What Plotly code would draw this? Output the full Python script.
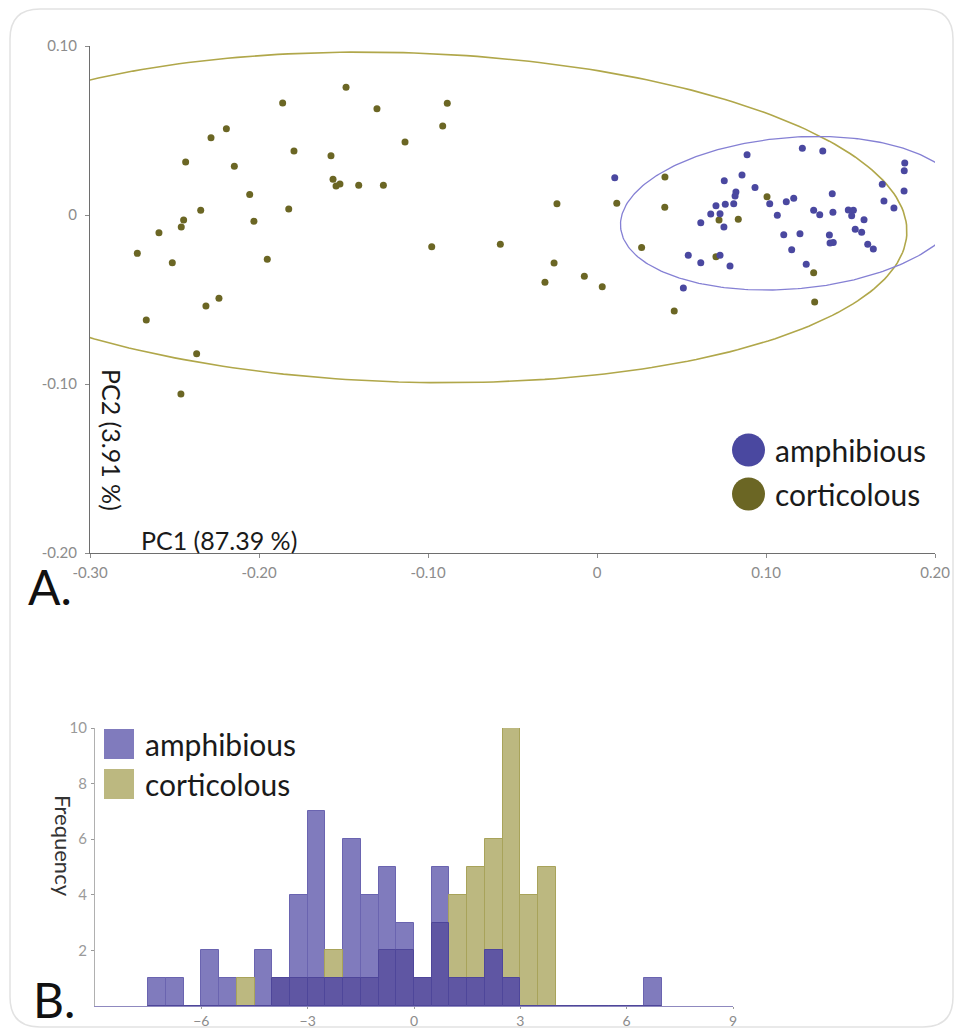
import numpy as np
import plotly.graph_objects as go

# ---------------- data ----------------
# Panel A: PCA scores
amph_pc1 = [0.0105, 0.0888, 0.1215, 0.1336, 0.1821, 0.1818, 0.0753, 0.0858, 0.1688, 0.1817,
            0.0935, 0.0822, 0.0817, 0.0704, 0.0759, 0.0809, 0.1022, 0.1120, 0.1164, 0.1392,
            0.1698, 0.1757, 0.1282, 0.1318, 0.1396, 0.1487, 0.1517, 0.1507, 0.1580, 0.0673,
            0.0728, 0.0614, 0.0751, 0.1067, 0.1528, 0.1566, 0.1105, 0.1201, 0.1375, 0.1379,
            0.1398, 0.1602, 0.1635, 0.1152, 0.0540, 0.0614, 0.0728, 0.0787, 0.1238, 0.0511]
amph_pc2 = [0.0221, 0.0357, 0.0395, 0.0379, 0.0308, 0.0262, 0.0203, 0.0237, 0.0182, 0.0142,
            0.0162, 0.0136, 0.0112, 0.0055, 0.0063, 0.0067, 0.0067, 0.0079, 0.0099, 0.0126,
            0.0083, 0.0041, 0.0028, 0.0002, 0.0016, 0.0030, 0.0028, -0.0004, -0.0028, 0.0006,
            0.0008, -0.0046, -0.0071, -0.0002, -0.0085, -0.0102, -0.0117, -0.0111, -0.0118, -0.0166,
            -0.0162, -0.0173, -0.0201, -0.0205, -0.0238, -0.0282, -0.0238, -0.0302, -0.0292, -0.0432]
cort_pc1 = [-0.1485, -0.1860, -0.1302, -0.2193, -0.2284, -0.1793, -0.2434, -0.1574, -0.2146, -0.1562,
            -0.1544, -0.1521, -0.1410, -0.1264, -0.2055, -0.2345, -0.1824, -0.2446, -0.2460, -0.2030,
            -0.2592, -0.2720, -0.2513, -0.1951, -0.2237, -0.2314, -0.2667, -0.2369, -0.2462, -0.0886,
            -0.0913, -0.1136, -0.0237, 0.0117, -0.0978, -0.0572, -0.0254, -0.0308, -0.0075, 0.0031,
            0.0402, 0.0401, 0.1006, 0.0722, 0.0836, 0.0264, 0.0704, 0.1282, 0.1288, 0.0457]
cort_pc2 = [0.0756, 0.0663, 0.0629, 0.0511, 0.0457, 0.0379, 0.0314, 0.0351, 0.0288, 0.0211,
            0.0172, 0.0183, 0.0176, 0.0176, 0.0122, 0.0028, 0.0036, -0.0030, -0.0071, -0.0037,
            -0.0105, -0.0227, -0.0282, -0.0262, -0.0493, -0.0538, -0.0621, -0.0821, -0.1059, 0.0661,
            0.0527, 0.0432, 0.0067, 0.0069, -0.0188, -0.0173, -0.0284, -0.0398, -0.0363, -0.0424,
            0.0225, 0.0046, 0.0108, -0.0030, -0.0025, -0.0193, -0.0247, -0.0341, -0.0515, -0.0568]

pc1_ticks = [-0.3, -0.2, -0.1, 0.0, 0.1, 0.2]
pc1_ticktext = ["-0.30", "-0.20", "-0.10", "0", "0.10", "0.20"]
pc2_ticks = [-0.2, -0.1, 0.0, 0.1]
pc2_ticktext = ["-0.20", "-0.10", "0", "0.10"]

# Panel B: histogram (bin width 0.5)
bin_centers = [-7.25, -6.75, -6.25, -5.75, -5.25, -4.75, -4.25, -3.75, -3.25, -2.75,
               -2.25, -1.75, -1.25, -0.75, -0.25, 0.25, 0.75, 1.25, 1.75, 2.25,
               2.75, 3.25, 3.75, 4.25, 4.75, 5.25, 5.75, 6.25, 6.75]
amph_counts = [1, 1, 0, 2, 1, 0, 2, 1, 4, 7,
               1, 6, 4, 5, 3, 1, 5, 1, 1, 2,
               1, 0, 0, 0, 0, 0, 0, 0, 1]
cort_counts = [0, 0, 0, 0, 0, 1, 0, 1, 1, 1,
               2, 1, 1, 2, 2, 1, 3, 4, 5, 6,
               10, 4, 5, 0, 0, 0, 0, 0, 0]
hist_xticks = [-6, -3, 0, 3, 6, 9]
hist_yticks = [2, 4, 6, 8, 10]

# ---------------- helpers ----------------
W, H = 955, 1029
FONT = "Lato"


def px(x):
    """window pixel -> paper x"""
    return x / W


def py(y):
    """window pixel -> paper y"""
    return 1 - y / H


def conf_ellipse(x, y, chi2=5.991, n=300):
    x = np.asarray(x)
    y = np.asarray(y)
    m = np.array([x.mean(), y.mean()])
    cov = np.cov(x, y)
    vals, vecs = np.linalg.eigh(cov)
    t = np.linspace(0, 2 * np.pi, n)
    circ = np.vstack([np.cos(t), np.sin(t)])
    pts = vecs @ (np.sqrt(vals * chi2)[:, None] * circ) + m[:, None]
    return pts[0], pts[1]


PURPLE_DOT = "#4a48a0"
OLIVE_DOT = "#6b6624"
PURPLE_ELL = "#8580d4"
OLIVE_ELL = "#b0a74a"
PURPLE_BAR = "#807bbd"
OLIVE_BAR = "#bcb880"
OVERLAP_BAR = "#5f56a3"

fig = go.Figure()

# ellipses
ex, ey = conf_ellipse(cort_pc1, cort_pc2)
fig.add_trace(go.Scatter(x=ex, y=ey, mode="lines", line=dict(color=OLIVE_ELL, width=1.6),
                         hoverinfo="skip", showlegend=False, xaxis="x", yaxis="y"))
ex, ey = conf_ellipse(amph_pc1, amph_pc2)
fig.add_trace(go.Scatter(x=ex, y=ey, mode="lines", line=dict(color=PURPLE_ELL, width=1.3),
                         hoverinfo="skip", showlegend=False, xaxis="x", yaxis="y"))

# points
fig.add_trace(go.Scatter(x=cort_pc1, y=cort_pc2, mode="markers", name="corticolous",
                         marker=dict(color=OLIVE_DOT, size=7), showlegend=False,
                         xaxis="x", yaxis="y"))
fig.add_trace(go.Scatter(x=amph_pc1, y=amph_pc2, mode="markers", name="amphibious",
                         marker=dict(color=PURPLE_DOT, size=7), showlegend=False,
                         xaxis="x", yaxis="y"))

# histogram bars
overlap = np.minimum(amph_counts, cort_counts)
fig.add_trace(go.Bar(x=bin_centers, y=amph_counts, width=0.5, name="amphibious",
                     marker=dict(color=PURPLE_BAR, line=dict(color="#6a64b0", width=1)),
                     showlegend=False, xaxis="x2", yaxis="y2"))
fig.add_trace(go.Bar(x=bin_centers, y=cort_counts, width=0.5, name="corticolous",
                     marker=dict(color=OLIVE_BAR, line=dict(color="#a8a35a", width=1)),
                     showlegend=False, xaxis="x2", yaxis="y2"))
fig.add_trace(go.Bar(x=bin_centers, y=overlap, width=0.5, name="overlap",
                     marker=dict(color=OVERLAP_BAR, line=dict(color="#4e469a", width=1)),
                     showlegend=False, xaxis="x2", yaxis="y2"))

tickfont = dict(family=FONT, size=15, color="#8c8c8c")

fig.update_layout(
    template="none",
    width=W, height=H, autosize=False,
    margin=dict(l=0, r=0, t=0, b=0, pad=0),
    paper_bgcolor="white", plot_bgcolor="rgba(0,0,0,0)",
    barmode="overlay", bargap=0,
    font=dict(family=FONT),
    xaxis=dict(domain=[px(90), px(935)], range=[-0.3, 0.2], anchor="y", automargin=False,
               tickvals=pc1_ticks, ticktext=pc1_ticktext, tickfont=tickfont,
               showgrid=False, zeroline=False, showline=True, linecolor="#6e6e6e", linewidth=1.2,
               ticks="outside", ticklen=4, tickcolor="#8c8c8c", ticklabelstandoff=2),
    yaxis=dict(domain=[py(553), py(46)], range=[-0.2, 0.1], anchor="x", automargin=False,
               tickvals=pc2_ticks, ticktext=pc2_ticktext, tickfont=tickfont,
               showgrid=False, zeroline=False, showline=True, linecolor="#6e6e6e", linewidth=1.2,
               ticks="outside", ticklen=4, tickcolor="#8c8c8c", ticklabelstandoff=5),
    xaxis2=dict(domain=[px(95), px(733)], range=[-9, 9], anchor="y2", automargin=False,
                tickvals=hist_xticks, tickfont=dict(family=FONT, size=14, color="#8c8c8c"),
                showgrid=False, zeroline=False, showline=True, linecolor="#8f89bf", linewidth=1.2,
                ticks="outside", ticklen=2, tickcolor="#9a9a9a", ticklabelstandoff=0),
    yaxis2=dict(domain=[py(1006), py(728)], range=[0, 10], anchor="x2", automargin=False,
                tickvals=hist_yticks, tickfont=dict(family=FONT, size=15, color="#9a9a9a"),
                showgrid=False, zeroline=False, showline=True, linecolor="#b0b0b0", linewidth=1,
                ticks="outside", ticklen=3, tickcolor="#9a9a9a", ticklabelstandoff=1),
)

shapes = []
annotations = []

# rounded border
x0, y0, x1, y1, r = px(10), py(9), px(953), py(1027), 30
rx, ry = r / W, r / H
path = (f"M {x0+rx},{y0} L {x1-rx},{y0} Q {x1},{y0} {x1},{y0-ry} "
        f"L {x1},{y1+ry} Q {x1},{y1} {x1-rx},{y1} L {x0+rx},{y1} Q {x0},{y1} {x0},{y1+ry} "
        f"L {x0},{y0-ry} Q {x0},{y0} {x0+rx},{y0} Z")
shapes.append(dict(type="path", path=path, xref="paper", yref="paper",
                   line=dict(color="#e2e2e2", width=1.5), layer="below"))

# scatter legend (big circles)
for cy, col, lab in [(450, PURPLE_DOT, "amphibious"), (494, OLIVE_DOT, "corticolous")]:
    shapes.append(dict(type="circle", xref="paper", yref="paper",
                       x0=px(732), x1=px(765), y0=py(cy + 16.5), y1=py(cy - 16.5),
                       fillcolor=col, line=dict(width=0)))
    annotations.append(dict(x=px(773), y=py(cy), xref="paper", yref="paper", text=lab,
                            showarrow=False, xanchor="left", yanchor="middle",
                            font=dict(family=FONT, size=30, color="#1a1a1a")))

# histogram legend (squares)
for cy, col, lab in [(744, PURPLE_BAR, "amphibious"), (784, OLIVE_BAR, "corticolous")]:
    shapes.append(dict(type="rect", xref="paper", yref="paper",
                       x0=px(104), x1=px(134), y0=py(cy + 15), y1=py(cy - 15),
                       fillcolor=col, line=dict(width=0)))
    annotations.append(dict(x=px(143), y=py(cy), xref="paper", yref="paper", text=lab,
                            showarrow=False, xanchor="left", yanchor="middle",
                            font=dict(family=FONT, size=30, color="#1a1a1a")))

# axis titles
annotations.append(dict(x=px(139), y=py(540), xref="paper", yref="paper", text="PC1 (87.39 %)",
                        showarrow=False, xanchor="left", yanchor="middle",
                        font=dict(family=FONT, size=25, color="#1a1a1a")))
annotations.append(dict(x=px(112), y=py(440), xref="paper", yref="paper", text="PC2 (3.91 %)",
                        showarrow=False, xanchor="center", yanchor="middle", textangle=90,
                        font=dict(family=FONT, size=25, color="#1a1a1a")))
annotations.append(dict(x=px(64), y=py(846), xref="paper", yref="paper", text="Frequency",
                        showarrow=False, xanchor="center", yanchor="middle", textangle=90,
                        font=dict(family=FONT, size=22, color="#333333")))

# panel letters
annotations.append(dict(x=px(26), y=py(586), xref="paper", yref="paper", text="A.",
                        showarrow=False, xanchor="left", yanchor="middle",
                        font=dict(family=FONT, size=48, color="#111111")))
annotations.append(dict(x=px(31), y=py(999), xref="paper", yref="paper", text="B.",
                        showarrow=False, xanchor="left", yanchor="middle",
                        font=dict(family=FONT, size=48, color="#111111")))

fig.update_layout(shapes=shapes, annotations=annotations)

fig.write_html("out.html",
               config={"displayModeBar": False},
               post_script="document.body.style.margin='0px';document.body.style.overflow='hidden';")
